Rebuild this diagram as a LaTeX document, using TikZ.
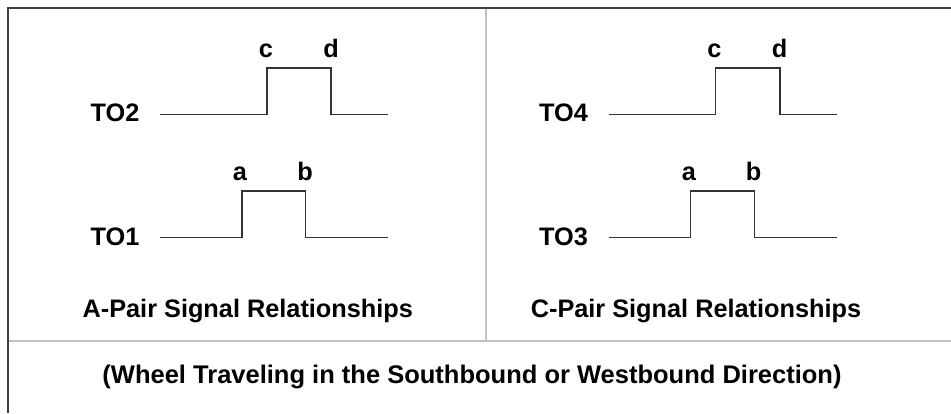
\documentclass[tikz,border=0pt]{standalone}
\usepackage{fontspec}
\setmainfont{Liberation Sans}
\definecolor{frame}{HTML}{404040}
\definecolor{divider}{HTML}{C0C0C0}
\definecolor{wave}{HTML}{333333}
\begin{document}
\begin{tikzpicture}[x=1pt,y=-1pt,
  lbl/.style={inner sep=0pt,font=\fontsize{25.3}{30}\selectfont\bfseries,text=black},
  framel/.style={draw=frame,line width=2pt},
  divl/.style={draw=divider,line width=2pt},
  wavel/.style={draw=wave,line width=1.2pt}]
\useasboundingbox (0,0) rectangle (951,413);
% frame and dividers
\draw[divl] (486,8) -- (486,341);
\draw[divl] (7,341) -- (951,341);
\draw[framel] (951,7.5) -- (7.5,7.5) -- (7.5,413);
% left panel
\node[lbl,anchor=base west] (to2) at (90.5,121.7) {TO2};
\node[lbl,anchor=base west] (to1) at (90.5,245) {TO1};
\node[lbl,anchor=base] (c1) at (266,57) {c};
\node[lbl,anchor=base] (d1) at (331,57) {d};
\node[lbl,anchor=base] (a1) at (240,180) {a};
\node[lbl,anchor=base] (b1) at (305,180) {b};
\draw[wavel] (160,114.5) -- (267,114.5) -- (267,68) -- (331,68) -- (331,114.5) -- (388,114.5);
\draw[wavel] (160,237.5) -- (242,237.5) -- (242,191) -- (305.7,191) -- (305.7,237.5) -- (388,237.5);
\node[lbl,anchor=base] (ta) at (247.8,317.3) {A-Pair Signal Relationships};
% right panel
\node[lbl,anchor=base west] (to4) at (539,121.7) {TO4};
\node[lbl,anchor=base west] (to3) at (539,245) {TO3};
\node[lbl,anchor=base] (c2) at (714.5,57) {c};
\node[lbl,anchor=base] (d2) at (779.5,57) {d};
\node[lbl,anchor=base] (a2) at (689,180) {a};
\node[lbl,anchor=base] (b2) at (753.5,180) {b};
\draw[wavel] (608.5,114.5) -- (715.7,114.5) -- (715.7,68) -- (780,68) -- (780,114.5) -- (836.7,114.5);
\draw[wavel] (608.5,237.5) -- (690.7,237.5) -- (690.7,191) -- (754.3,191) -- (754.3,237.5) -- (836.7,237.5);
\node[lbl,anchor=base] (tc) at (696,317.3) {C-Pair Signal Relationships};
% bottom
\node[lbl,anchor=base,font=\fontsize{25.5}{30}\selectfont\bfseries] (dir) at (472,383) {(Wheel Traveling in the Southbound or Westbound Direction)};
\end{tikzpicture}
\end{document}
